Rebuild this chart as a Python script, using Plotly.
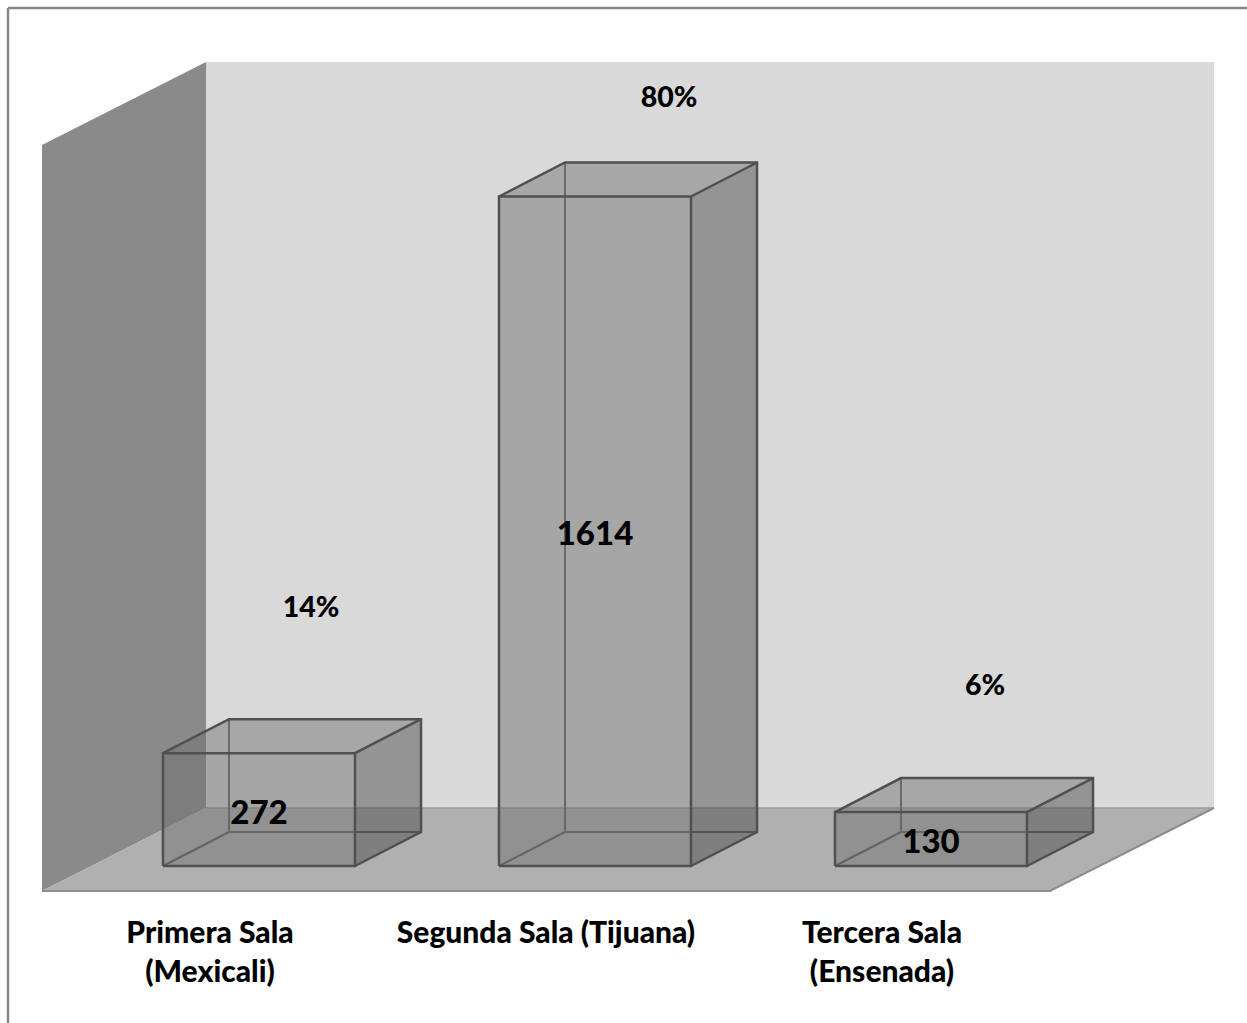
import plotly.graph_objects as go

# ---- data ----
categories = ["Primera Sala<br>(Mexicali)", "Segunda Sala (Tijuana)", "Tercera Sala<br>(Ensenada)"]
values = [272, 1614, 130]
percents = ["14%", "80%", "6%"]

# ---- geometry (px of oblique projection) ----
W, H = 1247, 1023
PX_X = 336.0          # px per category step
PX_Y = 0.4148         # px per value unit
X0_PX = 259.0         # px of first bar centre
Y0_PX = 866.0         # px of value 0 (front of bars)
BAR_W = 192 / PX_X    # bar width, x units
DX = 66 / PX_X        # box depth, x
DY = 34 / PX_Y        # box depth, y
PLOT_B = 896.0        # px of plot-area bottom (axis position)

def xu(px): return (px - X0_PX) / PX_X
def yu(px): return (Y0_PX - px) / PX_Y

fig = go.Figure()

def poly(xs, ys, fill, line=None, lw=0):
    fig.add_trace(go.Scatter(
        x=list(xs) + [xs[0]], y=list(ys) + [ys[0]], mode="lines",
        fill="toself", fillcolor=fill,
        line=dict(color=line or "rgba(0,0,0,0)", width=lw),
        hoverinfo="skip", showlegend=False))

def seg(xs, ys, color, lw):
    fig.add_trace(go.Scatter(x=xs, y=ys, mode="lines", line=dict(color=color, width=lw),
                             hoverinfo="skip", showlegend=False))

# walls
poly([xu(206), xu(1214), xu(1214), xu(206)], [yu(62), yu(62), yu(808), yu(808)], "#d9d9d9")
poly([xu(42), xu(206), xu(206), xu(42)], [yu(145), yu(62), yu(808), yu(891)], "#8a8a8a")
poly([xu(42), xu(1050), xu(1214), xu(206)], [yu(891), yu(891), yu(808), yu(808)], "#b0b0b0")
seg([xu(42), xu(1050), xu(1214)], [yu(891), yu(891), yu(808)], "#8c8c8c", 2)
seg([xu(206), xu(1214)], [yu(808), yu(808)], "#9a9a9a", 1.5)

EDGE = "#505050"
for i, v in enumerate(values):
    l, r = i - BAR_W / 2, i + BAR_W / 2
    # hidden (back) edges
    seg([l + DX, l + DX, r + DX], [v + DY, DY, DY], "#626262", 2)
    seg([l, l + DX], [0, DY], "#585858", 2)
    # faces
    poly([l, r, r, l], [0, 0, v, v], "rgba(110,110,110,0.48)")
    poly([r, r + DX, r + DX, r], [0, DY, v + DY, v], "rgba(73,73,73,0.48)")
    poly([l, r, r + DX, l + DX], [v, v, v + DY, v + DY], "rgba(112,112,112,0.48)")
    # visible edges
    seg([l, r, r, l, l], [0, 0, v, v, 0], EDGE, 2.5)
    seg([r, r + DX, r + DX, l + DX, l], [0, DY, v + DY, v + DY, v], EDGE, 2.5)
    seg([r, r + DX], [v, v + DY], EDGE, 2.5)

# value labels at mid-height of bar fronts
fig.add_trace(go.Scatter(
    x=list(range(len(values))), y=[v / 2 - 14 for v in values], mode="text",
    text=[str(v) for v in values], textposition="middle center",
    textfont=dict(family="Lato", size=33, color="#000000", weight=900),
    hoverinfo="skip", showlegend=False))

# percent labels, offset above bars
pct_dx = [52, 74, 54]
pct_dy = [146, 100, 127]
fig.add_trace(go.Scatter(
    x=[i + pct_dx[i] / PX_X for i in range(3)],
    y=[values[i] + (pct_dy[i] - 3) / PX_Y for i in range(3)], mode="text",
    text=percents, textposition="middle center",
    textfont=dict(family="Lato", size=28.5, color="#000000", weight=900),
    hoverinfo="skip", showlegend=False))

fig.update_layout(
    width=W, height=H, margin=dict(l=0, r=0, t=0, b=H - PLOT_B),
    paper_bgcolor="white", plot_bgcolor="rgba(0,0,0,0)", showlegend=False,
    xaxis=dict(range=[xu(0), xu(W)], showgrid=False, zeroline=False, showline=False,
               tickmode="array", tickvals=[i - 49 / PX_X for i in range(3)], ticktext=categories,
               ticks="outside", ticklen=10, tickcolor="rgba(0,0,0,0)",
               tickfont=dict(family="Lato", size=30, color="#000000", weight=900)),
    yaxis=dict(range=[yu(PLOT_B), yu(0)], visible=False),
    shapes=[dict(type="line", xref="paper", yref="paper",
                 x0=8 / W, x1=8 / W, y0=(PLOT_B - H) / PLOT_B, y1=(PLOT_B - 8) / PLOT_B,
                 line=dict(color="#868686", width=2.5), layer="above"),
            dict(type="line", xref="paper", yref="paper",
                 x0=8 / W, x1=1, y0=(PLOT_B - 8) / PLOT_B, y1=(PLOT_B - 8) / PLOT_B,
                 line=dict(color="#868686", width=2.5), layer="above")],
)
fig.write_html("out.html", config=dict(displayModeBar=False),
               post_script="document.body.style.margin='0';document.body.style.overflow='hidden';")
